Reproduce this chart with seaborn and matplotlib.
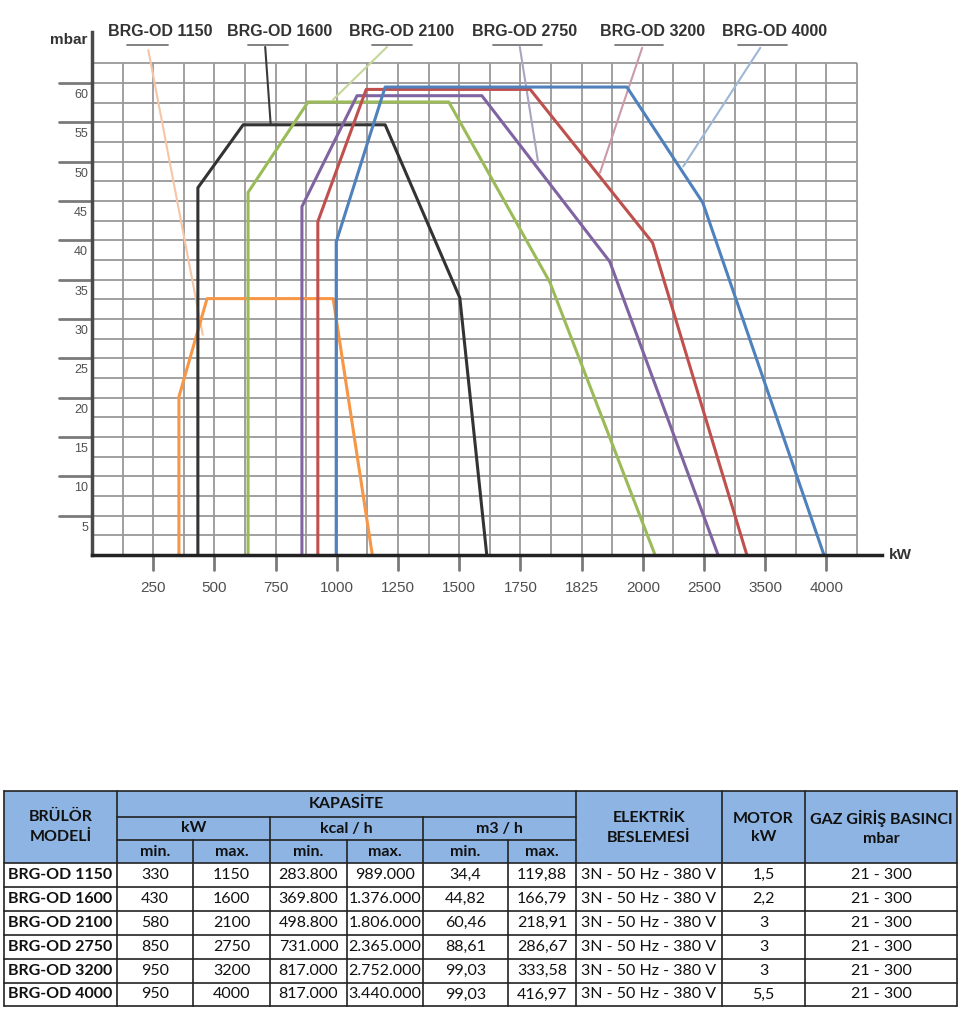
import matplotlib
matplotlib.use("Agg")
import matplotlib.pyplot as plt
from matplotlib import font_manager
from matplotlib.patches import Rectangle
import pandas as pd
import seaborn as sns

# ---- chart data --------------------------------------------------------
# the kW axis is not linear: labels sit on evenly spaced slots 1..12
kw_ticks = [250, 500, 750, 1000, 1250, 1500, 1750, 1825, 2000, 2500, 3500, 4000]
mbar_ticks = [5, 10, 15, 20, 25, 30, 35, 40, 45, 50, 55, 60]

models = ["BRG-OD 1150", "BRG-OD 1600", "BRG-OD 2100",
          "BRG-OD 2750", "BRG-OD 3200", "BRG-OD 4000"]
colors = ["#F79646", "#333333", "#9BBB59", "#8064A2", "#C0504D", "#4F81BD"]
leader_colors = ["#F5C6A5", "#3a3a3a", "#C4D79B", "#ABA3C2", "#CC9AA6", "#9DB7D6"]

# working curves (x in slot units, y in mbar)
x_1150 = [1.42, 1.42, 1.88, 3.94, 4.58]
y_1150 = [0, 20.1, 32.6, 32.6, 0]
x_1600 = [1.73, 1.73, 2.47, 4.79, 6.01, 6.45]
y_1600 = [0, 46.7, 54.7, 54.7, 32.7, 0]
x_2100 = [2.55, 2.55, 3.53, 5.83, 7.48, 9.20]
y_2100 = [0, 46.1, 57.6, 57.6, 34.7, 0]
x_2750 = [3.43, 3.43, 4.33, 6.37, 8.46, 10.23]
y_2750 = [0, 44.3, 58.4, 58.4, 37.3, 0]
x_3200 = [3.69, 3.69, 4.48, 7.16, 9.16, 10.70]
y_3200 = [0, 42.4, 59.2, 59.2, 39.7, 0]
x_4000 = [3.99, 3.99, 4.79, 8.74, 9.98, 11.96]
y_4000 = [0, 39.8, 59.5, 59.5, 44.8, 0]

# label leader lines: start under the label, end on the curve
leader_x0 = [0.92, 2.83, 4.82, 6.99, 8.99, 10.92]
leader_y0 = [64.2, 64.6, 64.6, 64.6, 64.5, 64.5]
leader_x1 = [1.81, 2.92, 3.94, 7.29, 8.30, 9.66]
leader_y1 = [28.0, 54.7, 57.9, 49.9, 48.6, 49.4]
label_x = [0.26, 2.21, 4.20, 6.21, 8.30, 10.29]
underline_x0 = [0.57, 2.55, 4.58, 6.55, 8.55, 10.56]
underline_x1 = [1.24, 3.20, 5.23, 7.35, 9.33, 11.36]

# ---- table data --------------------------------------------------------
kw_min = ["330", "430", "580", "850", "950", "950"]
kw_max = ["1150", "1600", "2100", "2750", "3200", "4000"]
kcal_min = ["283.800", "369.800", "498.800", "731.000", "817.000", "817.000"]
kcal_max = ["989.000", "1.376.000", "1.806.000", "2.365.000", "2.752.000", "3.440.000"]
m3_min = ["34,4", "44,82", "60,46", "88,61", "99,03", "99,03"]
m3_max = ["119,88", "166,79", "218,91", "286,67", "333,58", "416,97"]
supply = ["3N - 50 Hz - 380 V"] * 6
motor_kw = ["1,5", "2,2", "3", "3", "3", "5,5"]
gas_pressure = ["21 - 300"] * 6

sns.set_style("white")
names = {f.name for f in font_manager.fontManager.ttflist}
chart_font = "Liberation Sans Narrow" if "Liberation Sans Narrow" in names else "Liberation Sans"
table_font = "Lato" if "Lato" in names else "DejaVu Sans"
plt.rcParams["font.family"] = [chart_font, "DejaVu Sans"]

fig = plt.figure(figsize=(9.6, 10.09), dpi=100)
ax = fig.add_axes([92 / 960, 454 / 1009, 789.5 / 960, 523 / 1009])

xmax, ymax = 12.9, 66.5
grid_top, grid_right = 62.5, 12.5
grid_col = "#999999"
mark_col = "#7a7a7a"

# grid
vx = [i * 0.5 for i in range(1, 26)]
hy = [i * 2.5 for i in range(1, 26)]
ax.vlines(vx, 0, grid_top, color=grid_col, lw=1.3, zorder=1)
ax.hlines(hy, 0, grid_right, color=grid_col, lw=1.3, zorder=1)

# longer marks outside the axes at each labelled value
for v in mbar_ticks:
    ax.plot([-0.54, 0], [v, v], color=mark_col, lw=2.0, clip_on=False, zorder=6)
for i in range(1, 13):
    ax.plot([i, i], [-1.9, 0], color=mark_col, lw=2.0, clip_on=False, zorder=6)

rows = []
xs = [x_1150, x_1600, x_2100, x_2750, x_3200, x_4000]
ys = [y_1150, y_1600, y_2100, y_2750, y_3200, y_4000]
for m, xv, yv in zip(models, xs, ys):
    for k, (a, b) in enumerate(zip(xv, yv)):
        rows.append({"model": m, "slot": a, "mbar": b, "order": k})
df = pd.DataFrame(rows)

sns.lineplot(data=df, x="slot", y="mbar", hue="model", units="model",
             estimator=None, sort=False, hue_order=models,
             palette=dict(zip(models, colors)), lw=2.2, legend=False,
             ax=ax, zorder=3)

# labels with underline and leader line
for i, m in enumerate(models):
    ax.plot([leader_x0[i], leader_x1[i]], [leader_y0[i], leader_y1[i]],
            color=leader_colors[i], lw=1.5, zorder=2, clip_on=False)
    ax.plot([underline_x0[i], underline_x1[i]], [64.9, 64.9],
            color="#777777", lw=1.3, clip_on=False)
    ax.text(label_x[i], 66.5, m, ha="left", va="center", fontsize=11.5,
            color="#333333", fontweight="bold", clip_on=False)

ax.set_xlim(0, xmax)
ax.set_ylim(0, ymax)
ax.set_xlabel("")
ax.set_ylabel("")

ax.set_xticks(range(1, 13))
ax.set_xticklabels([str(v) for v in kw_ticks], fontsize=11, color="#505050")
ax.tick_params(axis="x", length=0, pad=19)

ax.set_yticks(mbar_ticks)
ax.set_yticklabels([])
ax.tick_params(axis="y", length=0)
for v in mbar_ticks:
    ax.annotate(str(v), xy=(0, v), xycoords=("axes fraction", "data"),
                xytext=(-4, -12), textcoords="offset pixels",
                ha="right", va="center", fontsize=9, color="#505050")

for s in ["top", "right"]:
    ax.spines[s].set_visible(False)
ax.spines["left"].set_color("#4a4a4a")
ax.spines["left"].set_linewidth(2.5)
ax.spines["bottom"].set_color("#222222")
ax.spines["bottom"].set_linewidth(2.5)
ax.spines["left"].set_zorder(7)
ax.spines["bottom"].set_zorder(7)

ax.annotate("mbar", xy=(0, 1), xycoords="axes fraction", xytext=(-5, -8),
            textcoords="offset pixels", ha="right", va="center",
            fontsize=11, fontweight="bold", color="#333333")
ax.annotate("kW", xy=(1, 0), xycoords="axes fraction", xytext=(7, 0),
            textcoords="offset pixels", ha="left", va="center",
            fontsize=11, fontweight="bold", color="#333333")

# ---- table --------------------------------------------------------------
tx = fig.add_axes([0, 0, 1, 1])
tx.set_xlim(0, 960)
tx.set_ylim(1009, 0)
tx.axis("off")
tx.patch.set_alpha(0)

col = [4, 117, 193, 270, 347, 423, 508, 576, 722, 805, 957]
hrow = [791, 817, 840, 863]
drow = [863 + 23.9 * i for i in range(7)]
head_fill = "#8DB4E2"
lc = "#222222"

tx.add_patch(Rectangle((col[0], hrow[0]), col[-1] - col[0], hrow[3] - hrow[0],
                       facecolor=head_fill, edgecolor="none"))
tf = dict(family=table_font, color="#111111")

def hline(y, x0, x1):
    tx.plot([x0, x1], [y, y], color=lc, lw=1.2)

def vline(x, y0, y1):
    tx.plot([x, x], [y0, y1], color=lc, lw=1.2)

# header grid
hline(hrow[0], col[0], col[-1])
hline(hrow[1], col[1], col[7])
hline(hrow[2], col[1], col[7])
for y in drow:
    hline(y, col[0], col[-1])
for c in [col[0], col[1], col[7], col[8], col[9], col[10]]:
    vline(c, hrow[0], drow[-1])
for c in [col[3], col[5]]:
    vline(c, hrow[1], drow[-1])
for c in [col[2], col[4], col[6]]:
    vline(c, hrow[2], drow[-1])

def mid(a, b):
    return (a + b) / 2

hs = 11.5
tx.text(mid(col[0], col[1]), mid(hrow[0], hrow[3]), "BRÜLÖR\nMODELİ", ha="center",
        va="center", fontsize=hs, fontweight="bold", linespacing=1.45, **tf)
tx.text(mid(col[1], col[7]), mid(hrow[0], hrow[1]), "KAPASİTE", ha="center",
        va="center", fontsize=hs, fontweight="bold", **tf)
for (a, b), t in zip([(1, 3), (3, 5), (5, 7)], ["kW", "kcal / h", "m3 / h"]):
    tx.text(mid(col[a], col[b]), mid(hrow[1], hrow[2]), t, ha="center",
            va="center", fontsize=hs, fontweight="bold", **tf)
for j in range(1, 7):
    tx.text(mid(col[j], col[j + 1]), mid(hrow[2], hrow[3]),
            "min." if j % 2 == 1 else "max.", ha="center", va="center",
            fontsize=hs, fontweight="bold", **tf)
for j, t in zip([7, 8, 9], ["ELEKTRİK\nBESLEMESİ", "MOTOR\nkW", "GAZ GİRİŞ BASINCI\nmbar"]):
    tx.text(mid(col[j], col[j + 1]), mid(hrow[0], hrow[3]) + 1, t, ha="center",
            va="center", fontsize=hs, fontweight="bold", linespacing=1.45, **tf)

cols_data = [kw_min, kw_max, kcal_min, kcal_max, m3_min, m3_max,
             supply, motor_kw, gas_pressure]
for i in range(6):
    yc = mid(drow[i], drow[i + 1])
    tx.text(col[0] + 4, yc, models[i], ha="left", va="center",
            fontsize=11.5, fontweight="bold", **tf)
    for j, vals in enumerate(cols_data):
        tx.text(mid(col[j + 1], col[j + 2]), yc, vals[i], ha="center",
                va="center", fontsize=11.5, **tf)

fig.savefig("out.png", dpi=100)
